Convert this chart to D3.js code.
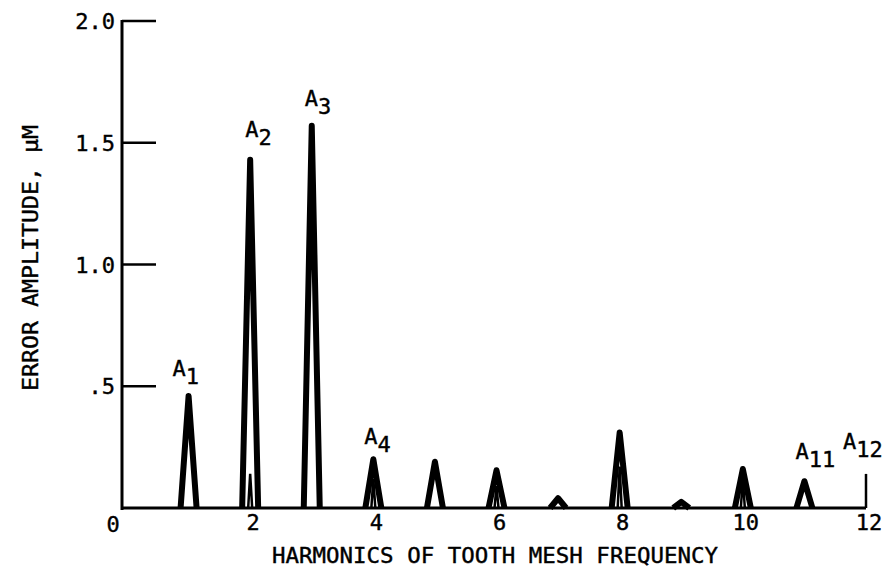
<!DOCTYPE html>
<html><head><meta charset="utf-8">
<script src="https://cdn.jsdelivr.net/npm/d3@7"></script>
<style>body{margin:0;background:#fff}svg{display:block}text{font-family:"DejaVu Sans Mono",monospace;fill:#000;stroke:#000;stroke-width:0.4}</style>
</head><body>
<script>
const harmonics = [1,2,3,4,5,6,7,8,9,10,11];
const amplitudes = [0.46,1.43,1.57,0.20,0.19,0.155,0.04,0.31,0.025,0.16,0.11];
const innerHarmonics = [2,4,6,8,10];
const innerAmplitudes = [0.14,0.12,0.09,0.17,0.12];
const labelled = [1,2,3,4,11,12];
const labelSubs = ["1","2","3","4","11","12"];
const stubValue = 0.14; // A12 marker at harmonic 12
const xTicks = [2,4,6,8,10,12];
const yTicks = [0.5,1.0,1.5,2.0];
const yTickLabels = [".5","1.0","1.5","2.0"];

const W=885,H=578;
const svg=d3.select("body").append("svg").attr("width",W).attr("height",H);
const x=d3.scaleLinear().domain([0,12]).range([127,866]);
const y=d3.scaleLinear().domain([0,2]).range([508,21]);
const ax=x(0)-5;

// y axis line
svg.append("line").attr("x1",ax).attr("x2",ax).attr("y1",y(2)-1).attr("y2",y(0)+2)
  .attr("stroke","#000").attr("stroke-width",3);
// baseline
svg.append("line").attr("x1",ax).attr("x2",x(12)).attr("y1",y(0)).attr("y2",y(0))
  .attr("stroke","#000").attr("stroke-width",3);
// y ticks (inward)
svg.selectAll(".yt").data(yTicks).join("line")
  .attr("x1",ax).attr("x2",ax+34).attr("y1",d=>y(d)).attr("y2",d=>y(d))
  .attr("stroke","#000").attr("stroke-width",2.5);
svg.selectAll(".ytl").data(yTicks).join("text")
  .attr("x",ax-7).attr("y",d=>y(d)+8).attr("text-anchor","end")
  .attr("font-size",22).text((d,i)=>yTickLabels[i]);
svg.append("text").attr("x",ax-9).attr("y",y(0)+24).attr("text-anchor","middle")
  .attr("font-size",22).text("0");
// x tick labels
svg.selectAll(".xtl").data(xTicks).join("text")
  .attr("x",d=>x(d)+3).attr("y",y(0)+22).attr("text-anchor","middle")
  .attr("font-size",22).text(d=>d);
// axis titles
svg.append("text").attr("x",495).attr("y",563).attr("text-anchor","middle")
  .attr("font-size",22).attr("textLength",446).attr("lengthAdjust","spacingAndGlyphs")
  .text("HARMONICS OF TOOTH MESH FREQUENCY");
svg.append("text").attr("transform","translate(38,258) rotate(-90)").attr("text-anchor","middle")
  .attr("font-size",22).attr("textLength",266).attr("lengthAdjust","spacingAndGlyphs")
  .text("ERROR AMPLITUDE, \u03bcM");

// spikes
const hw=8;
svg.selectAll(".spike").data(harmonics).join("path")
  .attr("d",(h,i)=>`M${x(h)-hw},${y(0)}L${x(h)},${y(amplitudes[i])}L${x(h)+hw},${y(0)}`)
  .attr("fill","none").attr("stroke","#000").attr("stroke-width",6)
  .attr("stroke-linejoin","round");
svg.selectAll(".inner").data(innerHarmonics).join("path")
  .attr("d",(h,i)=>`M${x(h)-2},${y(0)}L${x(h)},${y(innerAmplitudes[i])}L${x(h)+2},${y(0)}`)
  .attr("fill","none").attr("stroke","#000").attr("stroke-width",2.5);
// A12 stub
svg.append("line").attr("x1",x(12)).attr("x2",x(12)).attr("y1",y(0)).attr("y2",y(stubValue))
  .attr("stroke","#000").attr("stroke-width",2.5);

// labels
const labelOffsets={1:[-16,-20],2:[-5,-23],3:[-7,-20],4:[-9,-15],11:[-9,-22],12:[-23,-25]};
labelled.forEach((h,i)=>{
  const v = h===12? stubValue : amplitudes[harmonics.indexOf(h)];
  const o=labelOffsets[h];
  const t=svg.append("text").attr("x",x(h)+o[0]).attr("y",y(v)+o[1]).attr("font-size",22);
  t.append("tspan").text("A");
  t.append("tspan").attr("dy",8).attr("font-size",22).text(labelSubs[i]);
});
</script>
</body></html>
